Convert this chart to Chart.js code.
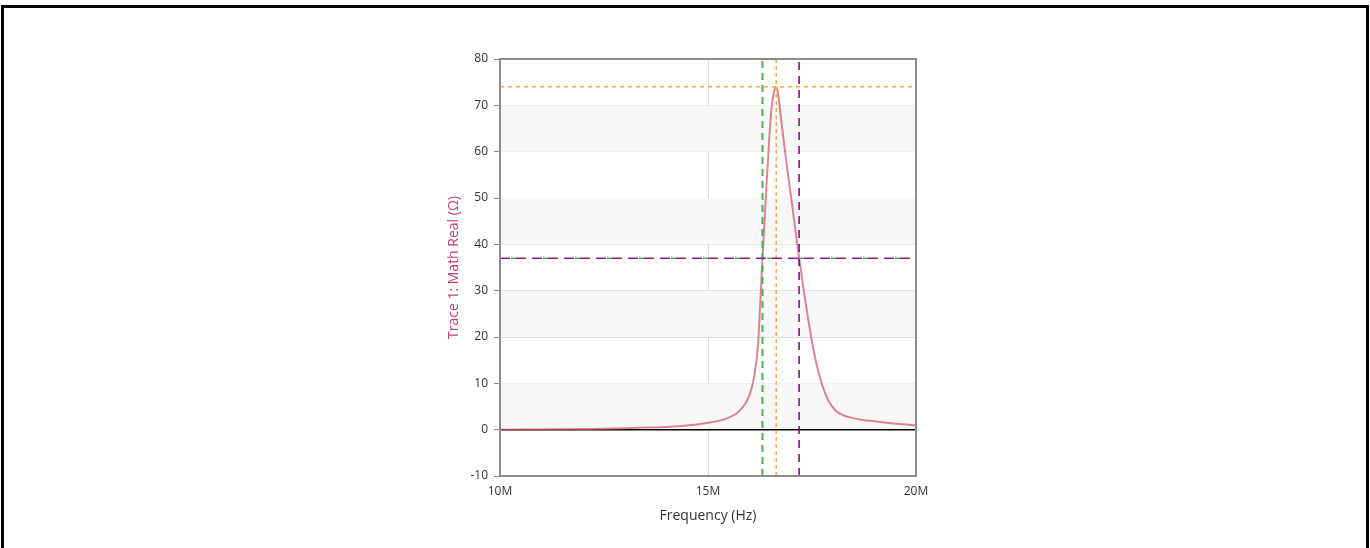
<!DOCTYPE html>
<html>
<head>
<meta charset="utf-8">
<script src="https://cdn.jsdelivr.net/npm/chart.js@4"></script>
<style>
  html, body { margin: 0; padding: 0; background: #fff; overflow: hidden; }
  #frame { position: absolute; left: 1px; top: 5px; width: 1362px; height: 600px; border: 3px solid #000; }
  #wrap { position: absolute; left: 0; top: 0; width: 1370px; height: 548px; }
</style>
</head>
<body>
<div id="frame"></div>
<div id="wrap"><canvas id="chart"></canvas></div>
<script>
// frequency in MHz, real part in ohms
const freqs = [10.0, 10.5, 11.0, 11.5, 12.0, 12.5, 13.0, 13.5, 14.0, 14.5, 15.0, 15.3, 15.5, 15.7, 15.85, 16.0, 16.1, 16.2, 16.26, 16.31, 16.37, 16.44, 16.52, 16.6, 16.64, 16.68, 16.76, 16.88, 17.0, 17.12, 17.19, 17.32, 17.48, 17.6, 17.75, 17.9, 18.05, 18.2, 18.4, 18.64, 19.0, 19.28, 19.6, 20.0];
const realVals = [0.0, 0.02, 0.05, 0.1, 0.15, 0.2, 0.3, 0.45, 0.6, 0.9, 1.5, 2.0, 2.6, 3.6, 5.0, 7.5, 11, 18, 28, 37, 47, 58, 68.8, 73.4, 73.9, 72.7, 66.8, 58, 50, 41.8, 37.1, 29, 20, 14.5, 9.5, 6.2, 4.3, 3.3, 2.7, 2.2, 1.8, 1.5, 1.2, 0.95];

// markers
const markerLow = 16.31;
const markerPeak = 16.64;
const markerHigh = 17.19;
const peakLevel = 74;
const halfLevel = 37;

const xTicks = [10, 15, 20];
const yMin = -10, yMax = 80;
const bandRanges = [[0, 10], [20, 30], [40, 50], [60, 70]];

const vLine = (x) => [{ x: x, y: yMin }, { x: x, y: yMax }];
const hLine = (y) => [{ x: 10, y: y }, { x: 20, y: y }];

const bandsPlugin = {
  id: 'bands',
  beforeDatasetsDraw(chart) {
    const { ctx, chartArea: a, scales: { y } } = chart;
    ctx.save();
    ctx.fillStyle = '#f8f8f8';
    bandRanges.forEach(([lo, hi]) => {
      const top = y.getPixelForValue(hi), bot = y.getPixelForValue(lo);
      ctx.fillRect(a.left, top, a.right - a.left, bot - top);
    });
    // zero line
    const z = y.getPixelForValue(0);
    ctx.strokeStyle = '#000';
    ctx.lineWidth = 1.5;
    ctx.beginPath();
    ctx.moveTo(a.left, z);
    ctx.lineTo(a.right, z);
    ctx.stroke();
    ctx.restore();
  },
  afterDraw(chart) {
    const { ctx, chartArea: a } = chart;
    ctx.save();
    ctx.strokeStyle = '#8c8c8c';
    ctx.lineWidth = 2;
    ctx.strokeRect(a.left, a.top, a.right - a.left, a.bottom - a.top);
    ctx.restore();
  }
};

const lineDs = (data, color, dash, width, offset) => ({
  data: data, borderColor: color, borderWidth: width, borderDash: dash,
  borderDashOffset: offset || 0, pointRadius: 0, fill: false, tension: 0, order: 1
});

new Chart(document.getElementById('chart'), {
  type: 'line',
  data: {
    datasets: [
      {
        data: freqs.map((f, i) => ({ x: f, y: realVals[i] })),
        borderColor: 'rgba(214, 90, 110, 0.75)',
        borderWidth: 2,
        pointRadius: 0,
        cubicInterpolationMode: 'monotone',
        fill: false,
        order: 2
      },
      lineDs(hLine(peakLevel), '#ffa64d', [4, 4], 1.5),
      lineDs(hLine(halfLevel), '#8b1a8b', [10, 6], 1.5),
      lineDs(hLine(halfLevel), '#4caf50', [5, 27], 1.5, -11),
      lineDs(vLine(markerLow), '#4caf50', [7, 5], 2),
      lineDs(vLine(markerPeak), '#ffa64d', [4, 3], 1.5),
      lineDs(vLine(markerHigh), '#800080', [8, 6], 1.5)
    ]
  },
  options: {
    responsive: true,
    maintainAspectRatio: false,
    animation: false,
    layout: { padding: { left: 446, right: 454, top: 59, bottom: 20 } },
    plugins: { legend: { display: false }, tooltip: { enabled: false } },
    scales: {
      x: {
        type: 'linear', min: 10, max: 20,
        afterBuildTicks: (s) => { s.ticks = xTicks.map(v => ({ value: v })); },
        afterFit: (s) => { s.height = 52; },
        ticks: {
          color: '#333', font: { family: 'Open Sans', size: 12 }, padding: 8,
          maxRotation: 0, callback: (v) => v + 'M'
        },
        grid: { color: '#dcdcdc', drawTicks: false },
        border: { color: '#8c8c8c', width: 2 },
        title: { display: true, text: 'Frequency (Hz)', color: '#333', font: { family: 'Open Sans', size: 14 }, padding: { top: -4 } }
      },
      y: {
        min: yMin, max: yMax,
        afterFit: (s) => { s.width = 54; },
        ticks: { stepSize: 10, color: '#333', font: { family: 'Open Sans', size: 12 }, padding: 6 },
        grid: {
          color: (c) => c.tick && c.tick.value === 0 ? 'rgba(0,0,0,0)' : '#dcdcdc',
          tickColor: '#8c8c8c', tickLength: 6
        },
        border: { color: '#8c8c8c', width: 2 },
        title: { display: true, text: 'Trace 1: Math Real (Ω)', color: '#c8406a', font: { family: 'Open Sans', size: 14 }, padding: 0 }
      }
    }
  },
  plugins: [bandsPlugin]
});
</script>
</body>
</html>
